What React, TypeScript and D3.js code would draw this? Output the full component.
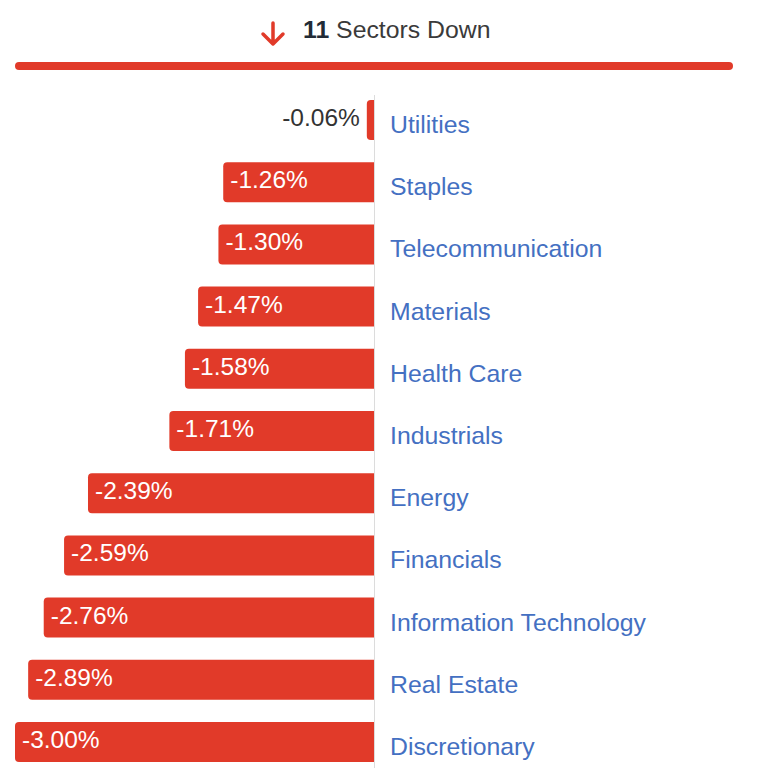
import { useEffect, useRef } from 'react';
import * as d3 from 'd3';

const sectors = ['Utilities', 'Staples', 'Telecommunication', 'Materials', 'Health Care', 'Industrials',
  'Energy', 'Financials', 'Information Technology', 'Real Estate', 'Discretionary'];
const changes = [-0.06, -1.26, -1.30, -1.47, -1.58, -1.71, -2.39, -2.59, -2.76, -2.89, -3.00];
const downCount = 11;

const red = '#e13a29';
const blue = '#4470c2';
const font = '"Liberation Sans", Arial, sans-serif';

function barPath(x0: number, x1: number, y: number, h: number, r: number) {
  const rr = Math.min(r, (x1 - x0) / 2 + 2);
  return `M${x0 + rr},${y}H${x1}V${y + h}H${x0 + rr}Q${x0},${y + h} ${x0},${y + h - rr}V${y + rr}Q${x0},${y} ${x0 + rr},${y}Z`;
}

export default function App() {
  const ref = useRef<SVGSVGElement>(null);

  useEffect(() => {
    const svg = d3.select(ref.current);
    svg.selectAll('*').remove();

    const x = d3.scaleLinear().domain([-3, 0]).range([15, 374]);
    const y = d3.scaleBand<string>().domain(sectors).range([100, 762]).paddingInner(0.357).paddingOuter(0);
    const data = sectors.map((s, i) => ({ sector: s, value: changes[i] }));
    const inside = (v: number) => x(0) - x(v) > 80;

    // header
    const head = svg.append('g');
    head.append('path')
      .attr('d', 'M273,23V44M263,34L273,44L283,34')
      .attr('fill', 'none')
      .attr('stroke', red)
      .attr('stroke-width', 3.5)
      .attr('stroke-linecap', 'round')
      .attr('stroke-linejoin', 'round');
    const t = head.append('text')
      .attr('x', 303)
      .attr('y', 38)
      .attr('font-family', font)
      .attr('font-size', 24.8)
      .attr('fill', '#3a3a3a');
    t.append('tspan').attr('font-weight', 'bold').attr('fill', '#222b36').text(String(downCount));
    t.append('tspan').text(' Sectors Down');

    svg.append('line')
      .attr('x1', 19).attr('x2', 729)
      .attr('y1', 66).attr('y2', 66)
      .attr('stroke', red)
      .attr('stroke-width', 8)
      .attr('stroke-linecap', 'round');

    // zero axis
    svg.append('line')
      .attr('x1', x(0) + 0.5).attr('x2', x(0) + 0.5)
      .attr('y1', 95).attr('y2', 768)
      .attr('stroke', '#dcdcdc')
      .attr('stroke-width', 1);

    const rows = svg.selectAll('g.row')
      .data(data)
      .join('g')
      .attr('class', 'row');

    rows.append('path')
      .attr('d', d => barPath(x(d.value), x(0), y(d.sector)!, y.bandwidth(), 4))
      .attr('fill', red);

    rows.append('text')
      .attr('x', d => (inside(d.value) ? x(d.value) + 7 : x(d.value) - 7))
      .attr('y', d => y(d.sector)! + y.bandwidth() / 2 + 6)
      .attr('text-anchor', d => (inside(d.value) ? 'start' : 'end'))
      .attr('font-family', font)
      .attr('font-size', 24.5)
      .attr('fill', d => (inside(d.value) ? '#fff' : '#333'))
      .text(d => `${d.value.toFixed(2)}%`);

    rows.append('text')
      .attr('x', 390)
      .attr('y', d => y(d.sector)! + y.bandwidth() / 2 + 13)
      .attr('font-family', font)
      .attr('font-size', 24.8)
      .attr('fill', blue)
      .text(d => d.sector);
  }, []);

  return (
    <svg ref={ref} width={768} height={768}
      style={{ position: 'absolute', left: 0, top: 0, background: '#fff' }} />
  );
}
